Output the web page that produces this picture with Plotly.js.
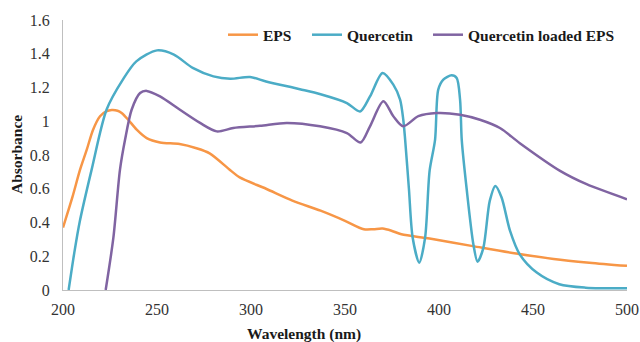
<!DOCTYPE html>
<html>
<head>
<meta charset="utf-8">
<script src="https://cdn.plot.ly/plotly-3.0.1.min.js"></script>
<style>
  html, body { margin: 0; padding: 0; background: #fff; }
  #chart { width: 640px; height: 342px; }
</style>
</head>
<body>
<div id="chart"></div>
<script>
// Series names
const seriesNames = ["EPS", "Quercetin", "Quercetin loaded EPS"];

// EPS
const epsX = [200, 205, 209, 212.6, 216, 219.7, 223, 226, 229, 231.2, 234.7, 239.2, 244.5, 251.6, 262, 271, 278, 289, 294, 308, 322, 337, 350, 360, 365, 370, 375, 380, 395, 418, 441, 461, 480, 500];
const epsY = [0.37, 0.55, 0.71, 0.83, 0.95, 1.03, 1.058, 1.066, 1.062, 1.049, 1.009, 0.95, 0.90, 0.874, 0.865, 0.84, 0.81, 0.71, 0.667, 0.60, 0.53, 0.47, 0.41, 0.36, 0.36, 0.364, 0.35, 0.33, 0.305, 0.26, 0.216, 0.184, 0.162, 0.143];

// Quercetin
const qX = [203, 206, 209, 215.2, 223.2, 232, 239, 250, 259, 269, 280, 289, 299.5, 308, 326, 337, 351, 358, 363.3, 370, 375.7, 379.3, 381, 382, 384, 386, 389.5, 392.6, 395, 397.9, 399.6, 402.3, 406.7, 409.4, 411.2, 412.1, 414.7, 418.3, 420.5, 423.6, 427, 430, 433.3, 437.8, 443, 452, 464, 478, 500];
const qY = [0, 0.22, 0.41, 0.712, 1.07, 1.25, 1.355, 1.42, 1.395, 1.316, 1.266, 1.252, 1.262, 1.236, 1.19, 1.16, 1.108, 1.058, 1.147, 1.286, 1.217, 1.128, 1.009, 0.89, 0.6, 0.31, 0.162, 0.31, 0.706, 0.89, 1.187, 1.246, 1.272, 1.256, 1.128, 0.89, 0.6, 0.27, 0.168, 0.25, 0.528, 0.617, 0.548, 0.35, 0.21, 0.103, 0.034, 0.014, 0.01];

// Quercetin loaded EPS
const qlX = [222.7, 226.8, 230.3, 233, 236.5, 241, 244.5, 251.6, 262.2, 272.9, 281.8, 290.6, 304.8, 319, 336.7, 351, 358.3, 363.3, 370.4, 375.7, 381, 389, 398.8, 411.2, 421.8, 432.4, 443, 464.4, 478.5, 500];
const qlY = [0, 0.31, 0.712, 0.89, 1.068, 1.167, 1.18, 1.147, 1.068, 0.99, 0.94, 0.96, 0.973, 0.99, 0.97, 0.93, 0.874, 0.97, 1.118, 1.03, 0.97, 1.03, 1.049, 1.039, 1.009, 0.96, 0.87, 0.706, 0.627, 0.538];

const colors = ["#F79646", "#4BACC6", "#8064A2"];

const FONT = "Liberation Serif, Times New Roman, serif";

function tr(x, y, i, legendId) {
  return {
    x: x, y: y, type: "scatter", mode: "lines", name: seriesNames[i],
    line: { color: colors[i], width: 2.5, shape: "spline", smoothing: 0.8 },
    legend: legendId, showlegend: true
  };
}

const data = [
  tr(epsX, epsY, 0, "legend"),
  tr(qX, qY, 1, "legend2"),
  tr(qlX, qlY, 2, "legend3")
];

const legendCommon = {
  orientation: "h", yanchor: "middle", xanchor: "left", y: 0.944,
  bgcolor: "rgba(0,0,0,0)", borderwidth: 0,
  font: { family: FONT, size: 15.5, color: "#1a1a1a", weight: "bold" }
};

const layout = {
  width: 640, height: 342,
  margin: { l: 63, r: 13, t: 20, b: 52 },
  paper_bgcolor: "#fff", plot_bgcolor: "#fff",
  font: { family: FONT, size: 16, color: "#333" },
  showlegend: true,
  legend: Object.assign({}, legendCommon, { x: 0.2837 }),
  legend2: Object.assign({}, legendCommon, { x: 0.4326 }),
  legend3: Object.assign({}, legendCommon, { x: 0.6472 }),
  xaxis: {
    range: [200, 500], dtick: 50, tick0: 200,
    showgrid: false, zeroline: false,
    showline: true, linecolor: "#BFBFBF", linewidth: 1,
    ticks: "", ticklabelstandoff: 5,
    tickfont: { family: FONT, size: 16, color: "#333" }
  },
  yaxis: {
    range: [0, 1.6], dtick: 0.2, tick0: 0,
    showgrid: false, zeroline: false,
    showline: true, linecolor: "#BFBFBF", linewidth: 1,
    ticks: "", ticklabelstandoff: 9,
    tickfont: { family: FONT, size: 16, color: "#333" }
  },
  annotations: [
    { text: "<b>Wavelength (nm)</b>", xref: "paper", yref: "paper", x: 0.4273, y: -0.163,
      xanchor: "center", yanchor: "middle", showarrow: false,
      font: { family: FONT, size: 15.5, color: "#1a1a1a" } },
    { text: "<b>Absorbance</b>", xref: "paper", yref: "paper", x: -0.0833, y: 0.5,
      xanchor: "center", yanchor: "middle", textangle: -90, showarrow: false,
      font: { family: FONT, size: 15.5, color: "#1a1a1a" } }
  ]
};

Plotly.newPlot("chart", data, layout, { displayModeBar: false, staticPlot: true });
</script>
</body>
</html>
